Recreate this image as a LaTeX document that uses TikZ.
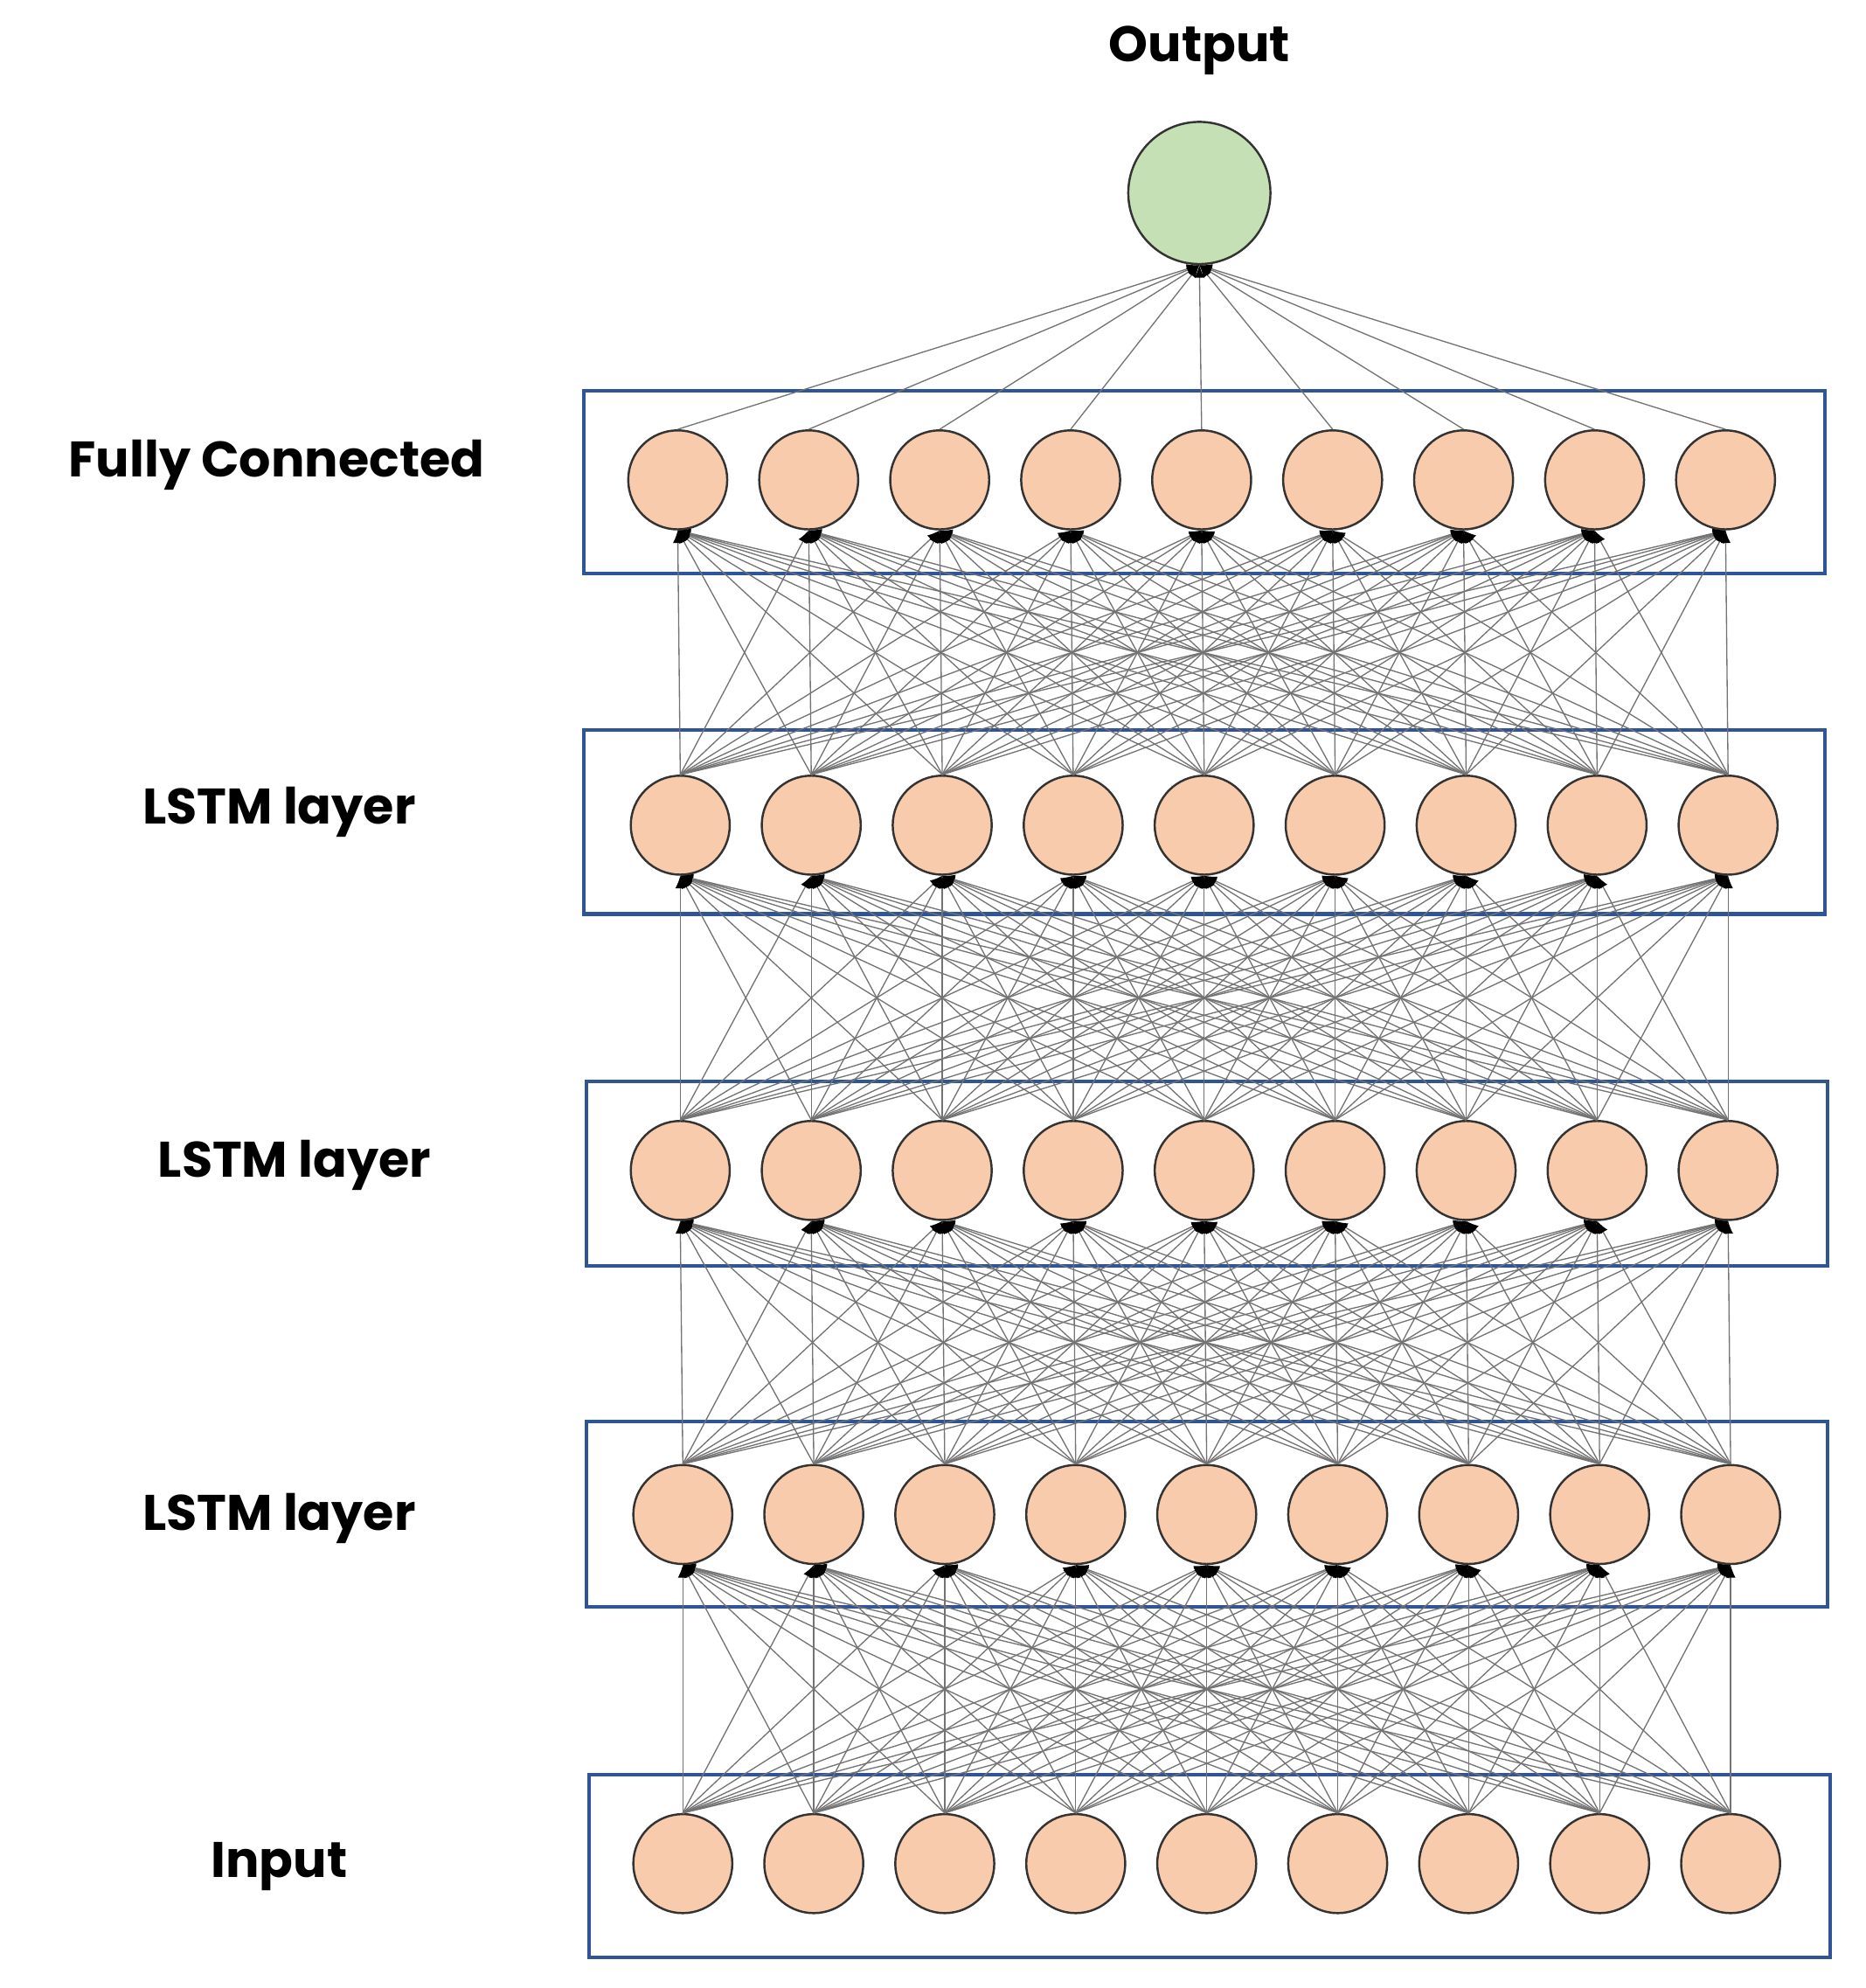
\documentclass[tikz,border=0pt]{standalone}
\usepackage{fontspec}
\setmainfont{Poppins}
\usetikzlibrary{arrows.meta}
\definecolor{peach}{HTML}{F8CBAD}
\definecolor{leaf}{HTML}{C5E0B4}
\definecolor{boxblue}{HTML}{2F5597}
\begin{document}
\begin{tikzpicture}[x=0.05cm,y=-0.05cm,
  neuron/.style={circle,draw=black!80,line width=2.4pt,fill=peach,minimum size=3.9cm,inner sep=0},
  outn/.style={circle,draw=black!80,line width=2.4pt,fill=leaf,minimum size=5.6cm,inner sep=0},
  layerbox/.style={draw=boxblue,line width=4pt},
  lab/.style={font=\fontsize{56}{66}\selectfont\bfseries,inner sep=0},
  conn/.style={draw=black!55,line width=1.3pt,-{Latex[black,length=14pt,width=11pt]}}]
\useasboundingbox (0,0) rectangle (1470,1566);
% boxes
\node[layerbox,minimum width=48.9cm,minimum height=7.2cm,inner sep=0] (bfc) at (949,380) {};
\node[layerbox,minimum width=48.9cm,minimum height=7.25cm,inner sep=0] (bl1) at (949,647.5) {};
\node[layerbox,minimum width=48.9cm,minimum height=7.25cm,inner sep=0] (bl2) at (951,924.5) {};
\node[layerbox,minimum width=48.9cm,minimum height=7.3cm,inner sep=0] (bl3) at (951,1193) {};
\node[layerbox,minimum width=48.9cm,minimum height=7.2cm,inner sep=0] (bin) at (953,1470) {};
% labels
\node[lab] (tout) at (945,40) {Output};
\node[lab] (tfc) at (218,366) {Fully Connected};
\node[lab] (tl1) at (220,640) {LSTM layer};
\node[lab] (tl2) at (232,918) {LSTM layer};
\node[lab] (tl3) at (220,1196) {LSTM layer};
\node[lab] (tin) at (220,1470) {Input};
% neurons
\node[outn] (out) at (945,152) {};
\foreach \i in {1,...,9}{
  \node[neuron] (fc\i) at ({534+103.2*(\i-1)},378) {};
  \node[neuron] (la\i) at ({536+103.2*(\i-1)},650) {};
  \node[neuron] (lb\i) at ({536+103.2*(\i-1)},922) {};
  \node[neuron] (lc\i) at ({538+103.2*(\i-1)},1193) {};
  \node[neuron] (in\i) at ({538+103.2*(\i-1)},1468) {};
}
% connectors
\foreach \i in {1,...,9}{
  \draw[conn] (fc\i.north) -- (out.south);
  \foreach \j in {1,...,9}{
    \draw[conn] (la\i.north) -- (fc\j.south);
    \draw[conn] (lb\i.north) -- (la\j.south);
    \draw[conn] (lc\i.north) -- (lb\j.south);
    \draw[conn] (in\i.north) -- (lc\j.south);
  }
}
\end{tikzpicture}
\end{document}
